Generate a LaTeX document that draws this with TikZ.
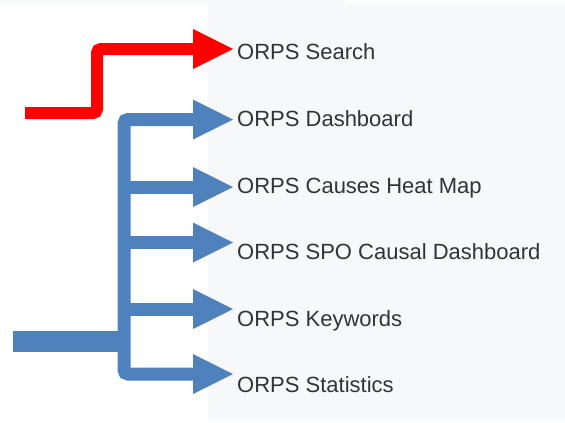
\documentclass[tikz,border=0pt]{standalone}
\usepackage{fontspec}
\setmainfont{Liberation Sans}
\usetikzlibrary{arrows.meta}
\definecolor{panel}{HTML}{F7F8FA}
\definecolor{arrowblue}{HTML}{4F81BD}
\definecolor{txt}{HTML}{333333}
\begin{document}
\begin{tikzpicture}[x=1pt,y=-1pt,
  lbl/.style={anchor=base west, inner sep=0pt, inner xsep=4pt, font=\fontsize{22}{26}\selectfont, text=txt},
  bigtip/.style={-{Triangle[length=40pt,width=40pt,line width=0pt]}},
  redline/.style={draw=red, line width=12pt, rounded corners=4pt, bigtip},
  blueline/.style={draw=arrowblue, line width=13pt, bigtip},
  bluein/.style={draw=arrowblue, line width=21pt}
  ]
\useasboundingbox (0,0) rectangle (565,423);
\fill[panel] (0,0) rectangle (345,4);
\fill[panel] (208,4) rectangle (565,421);

\node[lbl] (s1) at (233,59)    {ORPS Search};
\node[lbl] (s2) at (233,126)   {ORPS Dashboard};
\node[lbl] (s3) at (233,193)   {ORPS Causes Heat Map};
\node[lbl] (s4) at (233,259.5) {ORPS SPO Causal Dashboard};
\node[lbl] (s5) at (233,326)   {ORPS Keywords};
\node[lbl] (s6) at (233,392.5) {ORPS Statistics};

% red connector
\coordinate (rs) at (25,113);
\coordinate (rc) at (97,49);
\draw[redline] (rs) -| (rc) -- (rc -| s1.west);

% blue connectors
\coordinate (j2) at (124,119.5);
\coordinate (j3) at (124,187);
\coordinate (j4) at (124,242.5);
\coordinate (j5) at (124,309);
\coordinate (j6) at (124,374);
\coordinate (bs) at (13,341.5);
\draw[bluein] (bs) -- (bs -| j6);
\draw[blueline, {Triangle[length=40pt,width=40pt,line width=0pt]}-{Triangle[length=40pt,width=40pt,line width=0pt]}, rounded corners=4pt]
  (j2 -| s2.west) -- (j2) -- (j6) -- (j6 -| s6.west);
\draw[blueline] (j3) -- (j3 -| s3.west);
\draw[blueline] (j4) -- (j4 -| s4.west);
\draw[blueline] (j5) -- (j5 -| s5.west);
\end{tikzpicture}
\end{document}
